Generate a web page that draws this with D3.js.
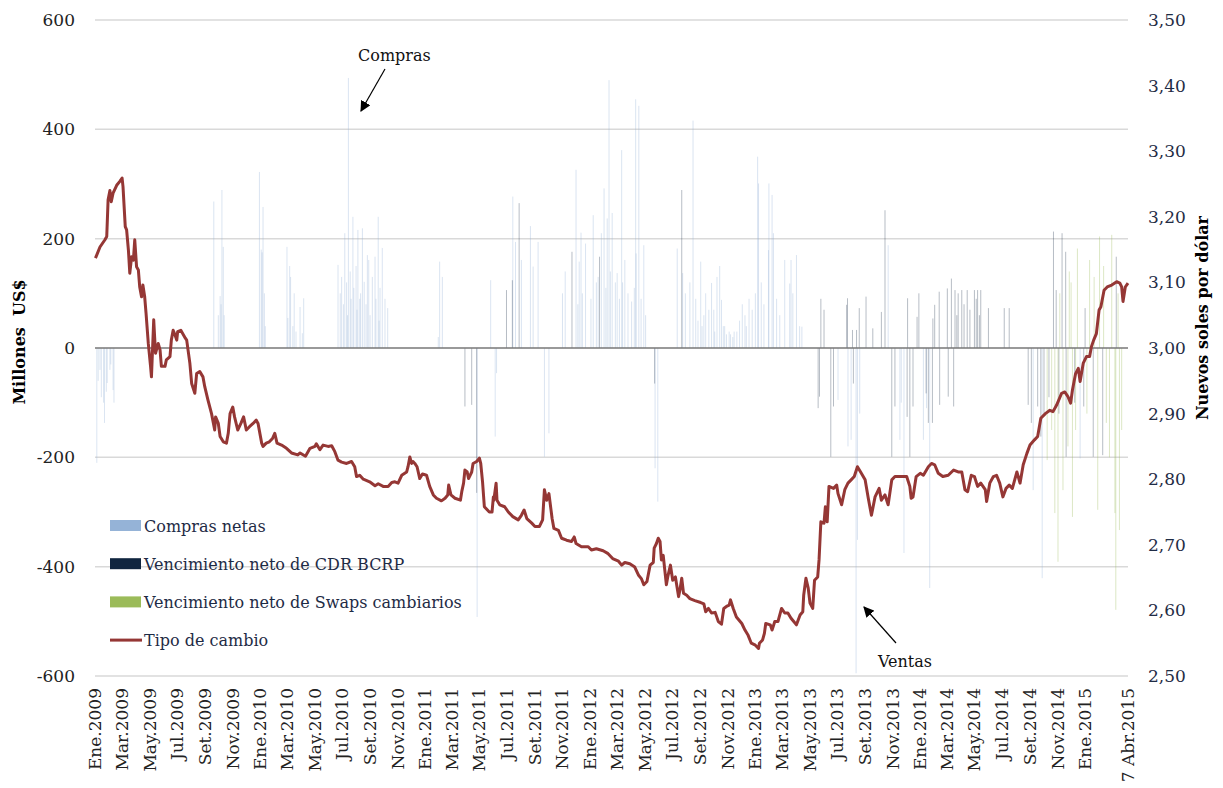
<!DOCTYPE html>
<html>
<head>
<meta charset="utf-8">
<script src="https://cdn.jsdelivr.net/npm/d3@7"></script>
<style>
  body { margin: 0; background: #fff; }
  text { font-family: "DejaVu Serif", serif; }
</style>
</head>
<body>
<svg width="1223" height="788"></svg>
<script>
// tipo de cambio (S/. por US$)
var tipoCambio = [
  ["2009-01-02",3.137],["2009-01-05",3.142],["2009-01-12",3.154],["2009-01-23",3.165],["2009-01-27",3.170],["2009-01-30",3.226],
  ["2009-02-03",3.240],["2009-02-06",3.223],["2009-02-10",3.236],["2009-02-18",3.248],["2009-02-25",3.254],["2009-03-02",3.259],
  ["2009-03-04",3.246],["2009-03-09",3.185],["2009-03-12",3.180],["2009-03-16",3.149],["2009-03-19",3.114],["2009-03-23",3.139],
  ["2009-03-27",3.134],["2009-03-30",3.165],["2009-04-03",3.124],["2009-04-07",3.119],["2009-04-10",3.093],["2009-04-14",3.078],
  ["2009-04-17",3.096],["2009-04-21",3.078],["2009-04-24",3.053],["2009-04-29",3.007],["2009-05-04",2.972],["2009-05-06",2.956],
  ["2009-05-11",3.043],["2009-05-13",3.017],["2009-05-15",2.992],["2009-05-21",3.007],["2009-05-25",2.997],["2009-05-28",2.972],
  ["2009-06-05",2.972],["2009-06-08",2.982],["2009-06-16",2.987],["2009-06-19",3.012],["2009-06-23",3.027],["2009-06-26",3.022],
  ["2009-07-01",3.012],["2009-07-03",3.025],["2009-07-10",3.027],["2009-07-20",3.015],["2009-07-23",3.012],["2009-07-30",2.977],
  ["2009-08-03",2.946],["2009-08-10",2.931],["2009-08-14",2.961],["2009-08-21",2.964],["2009-08-28",2.956],["2009-09-01",2.941],
  ["2009-09-08",2.921],["2009-09-16",2.900],["2009-09-23",2.875],["2009-09-25",2.895],["2009-10-01",2.885],["2009-10-05",2.865],
  ["2009-10-12",2.857],["2009-10-19",2.855],["2009-10-23",2.870],["2009-10-27",2.900],["2009-11-02",2.910],["2009-11-06",2.895],
  ["2009-11-13",2.875],["2009-11-20",2.885],["2009-11-26",2.895],["2009-12-02",2.875],["2009-12-09",2.880],["2009-12-17",2.885],
  ["2009-12-24",2.890],["2009-12-28",2.885],
  ["2010-01-05",2.855],["2010-01-08",2.850],["2010-01-15",2.855],["2010-01-22",2.857],["2010-01-29",2.862],["2010-02-03",2.870],
  ["2010-02-08",2.855],["2010-02-18",2.852],["2010-03-01",2.847],["2010-03-12",2.840],["2010-03-26",2.837],["2010-03-31",2.840],
  ["2010-04-12",2.835],["2010-04-22",2.847],["2010-05-03",2.850],["2010-05-06",2.854],["2010-05-14",2.845],["2010-05-21",2.852],
  ["2010-06-01",2.850],["2010-06-09",2.851],["2010-06-16",2.842],["2010-06-23",2.829],["2010-07-01",2.826],["2010-07-12",2.824],
  ["2010-07-23",2.827],["2010-07-30",2.819],["2010-08-03",2.804],["2010-08-10",2.806],["2010-08-18",2.800],["2010-09-01",2.796],
  ["2010-09-13",2.790],["2010-09-20",2.793],["2010-10-01",2.789],["2010-10-12",2.789],["2010-10-20",2.795],["2010-10-27",2.796],
  ["2010-11-03",2.794],["2010-11-11",2.806],["2010-11-22",2.811],["2010-11-25",2.819],["2010-11-29",2.834],["2010-12-03",2.824],
  ["2010-12-06",2.827],["2010-12-10",2.824],["2010-12-15",2.819],["2010-12-21",2.801],["2010-12-27",2.808],
  ["2011-01-05",2.806],["2011-01-12",2.789],["2011-01-20",2.776],["2011-01-27",2.771],["2011-02-07",2.767],["2011-02-15",2.771],
  ["2011-02-21",2.776],["2011-02-23",2.791],["2011-02-28",2.776],["2011-03-09",2.771],["2011-03-21",2.768],["2011-03-24",2.781],
  ["2011-03-28",2.794],["2011-03-31",2.814],["2011-04-05",2.811],["2011-04-08",2.801],["2011-04-15",2.811],["2011-04-18",2.824],
  ["2011-04-26",2.827],["2011-05-02",2.832],["2011-05-05",2.824],["2011-05-09",2.796],["2011-05-13",2.758],["2011-05-24",2.750],
  ["2011-05-30",2.750],["2011-06-02",2.773],["2011-06-03",2.768],["2011-06-08",2.794],["2011-06-10",2.768],["2011-06-16",2.761],
  ["2011-06-27",2.758],["2011-07-05",2.750],["2011-07-15",2.743],["2011-07-27",2.738],["2011-08-03",2.745],["2011-08-09",2.753],
  ["2011-08-15",2.740],["2011-08-26",2.733],["2011-09-02",2.728],["2011-09-12",2.728],["2011-09-19",2.738],["2011-09-23",2.784],
  ["2011-09-28",2.768],["2011-10-03",2.778],["2011-10-10",2.740],["2011-10-14",2.725],["2011-10-24",2.722],["2011-10-31",2.710],
  ["2011-11-11",2.707],["2011-11-22",2.705],["2011-11-28",2.712],["2011-12-02",2.702],["2011-12-14",2.697],["2011-12-29",2.697],
  ["2012-01-05",2.692],["2012-01-16",2.694],["2012-01-31",2.691],["2012-02-10",2.687],["2012-02-21",2.679],["2012-03-05",2.675],
  ["2012-03-12",2.669],["2012-03-19",2.673],["2012-03-30",2.671],["2012-04-10",2.666],["2012-04-18",2.654],["2012-04-25",2.648],
  ["2012-04-30",2.639],["2012-05-07",2.644],["2012-05-14",2.669],["2012-05-21",2.673],["2012-05-23",2.695],["2012-05-28",2.702],
  ["2012-06-01",2.710],["2012-06-05",2.705],["2012-06-08",2.677],["2012-06-12",2.684],["2012-06-19",2.639],["2012-06-22",2.651],
  ["2012-06-28",2.669],["2012-07-03",2.646],["2012-07-09",2.651],["2012-07-16",2.621],["2012-07-19",2.631],["2012-07-23",2.649],
  ["2012-07-27",2.626],["2012-08-03",2.623],["2012-08-10",2.618],["2012-08-21",2.615],["2012-09-03",2.612],["2012-09-10",2.610],
  ["2012-09-14",2.598],["2012-09-20",2.603],["2012-09-27",2.596],["2012-10-05",2.597],["2012-10-12",2.583],["2012-10-19",2.579],
  ["2012-10-24",2.603],["2012-10-30",2.606],["2012-11-05",2.608],["2012-11-08",2.616],["2012-11-14",2.603],["2012-11-21",2.590],
  ["2012-12-03",2.580],["2012-12-10",2.570],["2012-12-17",2.562],["2012-12-24",2.550],
  ["2013-01-02",2.547],["2013-01-09",2.542],["2013-01-11",2.550],["2013-01-18",2.555],["2013-01-22",2.565],["2013-01-25",2.580],
  ["2013-02-04",2.578],["2013-02-08",2.570],["2013-02-14",2.583],["2013-02-21",2.583],["2013-03-01",2.603],["2013-03-08",2.596],
  ["2013-03-15",2.596],["2013-03-22",2.588],["2013-03-28",2.583],["2013-04-03",2.578],["2013-04-11",2.593],["2013-04-17",2.598],
  ["2013-04-19",2.623],["2013-04-24",2.649],["2013-04-29",2.634],["2013-05-03",2.611],["2013-05-09",2.603],["2013-05-13",2.646],
  ["2013-05-20",2.651],["2013-05-23",2.677],["2013-05-27",2.735],["2013-06-03",2.733],["2013-06-06",2.758],["2013-06-10",2.735],
  ["2013-06-14",2.789],["2013-06-24",2.786],["2013-07-01",2.791],["2013-07-04",2.778],["2013-07-12",2.761],["2013-07-19",2.784],
  ["2013-07-26",2.794],["2013-08-02",2.799],["2013-08-09",2.804],["2013-08-16",2.819],["2013-08-23",2.811],["2013-09-02",2.799],
  ["2013-09-09",2.771],["2013-09-16",2.745],["2013-09-24",2.773],["2013-10-03",2.786],["2013-10-08",2.768],["2013-10-16",2.776],
  ["2013-10-23",2.761],["2013-10-31",2.799],["2013-11-07",2.804],["2013-11-22",2.804],["2013-12-03",2.804],["2013-12-10",2.789],
  ["2013-12-13",2.771],["2013-12-17",2.773],["2013-12-24",2.804],
  ["2014-01-02",2.809],["2014-01-09",2.806],["2014-01-20",2.819],["2014-01-27",2.824],["2014-02-03",2.822],["2014-02-11",2.809],
  ["2014-02-21",2.804],["2014-03-05",2.806],["2014-03-17",2.814],["2014-03-27",2.811],["2014-04-04",2.811],["2014-04-11",2.784],
  ["2014-04-17",2.781],["2014-04-25",2.806],["2014-05-02",2.804],["2014-05-09",2.789],["2014-05-16",2.794],["2014-05-26",2.784],
  ["2014-05-29",2.766],["2014-06-05",2.794],["2014-06-13",2.804],["2014-06-20",2.806],["2014-06-27",2.794],["2014-07-04",2.773],
  ["2014-07-11",2.786],["2014-07-18",2.791],["2014-07-25",2.786],["2014-08-04",2.811],["2014-08-11",2.794],["2014-08-18",2.822],
  ["2014-08-26",2.839],["2014-09-02",2.852],["2014-09-12",2.860],["2014-09-19",2.865],["2014-09-26",2.893],["2014-10-06",2.900],
  ["2014-10-16",2.905],["2014-10-23",2.903],["2014-10-31",2.913],["2014-11-11",2.931],["2014-11-18",2.933],["2014-11-25",2.926],
  ["2014-12-01",2.916],["2014-12-05",2.936],["2014-12-12",2.961],["2014-12-18",2.969],["2014-12-22",2.949],["2014-12-29",2.977],
  ["2015-01-05",2.987],["2015-01-12",2.987],["2015-01-16",3.002],["2015-01-21",3.012],["2015-01-27",3.022],["2015-02-02",3.058],
  ["2015-02-06",3.063],["2015-02-13",3.088],["2015-02-20",3.093],["2015-03-02",3.096],["2015-03-13",3.101],["2015-03-20",3.099],
  ["2015-03-24",3.093],["2015-03-27",3.071],["2015-04-01",3.093],["2015-04-07",3.099]
];

// compras netas (millones US$), negativas = ventas
var comprasNetas = [
  ["2009-01-05",-210],["2009-01-08",-60],["2009-01-12",-40],["2009-01-15",-90],["2009-01-20",-100],["2009-01-22",-137],
  ["2009-01-26",-80],["2009-01-28",-64],["2009-02-03",-40],["2009-02-05",-30],["2009-02-10",-77],["2009-02-12",-100],
  ["2009-09-21",268],["2009-10-01",60],["2009-10-05",95],["2009-10-07",80],["2009-10-09",289],["2009-10-12",185],["2009-10-14",60],
  ["2009-12-31",322],["2010-01-04",180],["2010-01-06",175],["2010-01-08",258],["2010-01-11",100],["2010-01-13",40],
  ["2010-03-02",185],["2010-03-04",55],["2010-03-08",150],["2010-03-10",130],["2010-03-15",40],["2010-03-18",100],
  ["2010-03-22",30],["2010-03-31",75],["2010-04-05",27],["2010-04-08",91],
  ["2010-06-23",152],["2010-06-28",100],["2010-07-01",130],["2010-07-05",80],["2010-07-08",210],["2010-07-12",120],
  ["2010-07-14",60],["2010-07-16",494],["2010-07-20",140],["2010-07-22",90],["2010-07-26",240],["2010-07-28",110],
  ["2010-08-02",150],["2010-08-04",70],["2010-08-06",216],["2010-08-10",90],["2010-08-12",100],["2010-08-16",219],
  ["2010-08-20",121],["2010-08-24",80],["2010-08-27",170],["2010-08-30",161],["2010-09-02",60],["2010-09-07",130],
  ["2010-09-13",167],["2010-09-15",90],["2010-09-20",240],["2010-09-22",50],["2010-09-24",110],["2010-09-29",183],
  ["2010-10-05",90],["2010-10-11",73],
  ["2011-01-31",20],["2011-02-03",158],["2011-02-09",130],
  ["2011-04-27",-492],["2011-05-27",124],["2011-06-06",-162],["2011-06-09",-46],
  ["2011-07-15",277],["2011-07-21",194],["2011-08-03",161],["2011-08-23",223],["2011-08-29",149],["2011-09-09",194],
  ["2011-09-23",-199],["2011-10-03",-156],
  ["2011-11-02",100],["2011-11-08",140],["2011-12-02",326],["2011-12-06",80],["2011-12-09",158],["2011-12-13",211],
  ["2011-12-16",100],["2011-12-23",191],["2012-01-04",90],["2012-01-09",243],["2012-01-16",120],["2012-01-20",130],
  ["2012-01-27",210],["2012-02-02",292],["2012-02-06",110],["2012-02-09",237],["2012-02-13",490],["2012-02-16",140],
  ["2012-02-20",247],["2012-02-27",120],["2012-03-02",137],["2012-03-07",90],["2012-03-12",362],["2012-03-14",120],
  ["2012-03-19",161],["2012-03-26",100],["2012-04-03",85],["2012-04-09",110],["2012-04-12",455],["2012-04-13",173],
  ["2012-04-19",443],["2012-04-24",90],["2012-04-30",188],["2012-05-04",60],
  ["2012-05-25",-220],["2012-05-31",-281],
  ["2012-07-13",182],["2012-07-25",137],["2012-07-31",100],["2012-08-10",120],["2012-08-17",416],["2012-08-23",90],
  ["2012-08-28",50],["2012-09-03",158],["2012-09-06",40],["2012-09-10",60],["2012-09-14",100],["2012-09-21",70],
  ["2012-09-27",119],["2012-10-02",70],["2012-10-04",30],["2012-10-09",130],["2012-10-15",150],["2012-10-19",88],
  ["2012-10-23",40],["2012-10-26",40],["2012-10-30",25],["2012-11-05",30],["2012-11-08",25],["2012-11-13",20],
  ["2012-11-16",30],["2012-11-22",30],["2012-11-28",50],["2012-12-04",80],["2012-12-10",60],["2012-12-13",40],
  ["2012-12-19",90],["2012-12-26",70],["2013-01-02",100],["2013-01-07",350],["2013-01-09",301],["2013-01-15",120],
  ["2013-01-21",80],["2013-01-31",179],["2013-02-01",301],["2013-02-08",280],["2013-02-11",210],["2013-02-18",90],
  ["2013-02-25",60],["2013-03-08",161],["2013-03-19",118],["2013-03-22",161],["2013-03-26",100],["2013-04-03",170],
  ["2013-04-10",40],["2013-04-15",39],
  ["2013-07-04",-95],["2013-07-26",-180],["2013-08-02",-168],["2013-08-13",-595],["2013-08-16",-351],["2013-08-21",-120],
  ["2013-10-23",188],["2013-11-18",-168],["2013-11-21",-100],["2013-11-27",-375],["2014-01-09",-168],["2014-01-16",-110],
  ["2014-01-23",-439],["2014-09-09",-260],["2014-09-29",-421],["2014-12-22",-202]
];

// vencimiento neto de CDR BCRP (millones US$)
var vencCDR = [
  ["2011-03-31",-107],["2011-04-15",-104],["2011-04-26",-265],["2011-07-01",106],["2011-07-14",124],["2011-07-29",265],
  ["2011-11-23",176],["2012-01-23",167],["2012-05-24",-65],["2012-07-23",289],
  ["2013-05-21",-110],["2013-05-24",-89],["2013-05-27",90],["2013-06-03",70],["2013-06-18",-199],["2013-06-24",-107],
  ["2013-07-23",79],["2013-07-25",91],["2013-08-05",33],["2013-08-07",-65],["2013-08-14",33],["2013-08-20",73],
  ["2013-09-04",94],["2013-09-19",36],["2013-10-08",66],["2013-10-16",252],["2013-10-31",-199],["2013-11-07",-107],
  ["2013-12-04",-126],["2013-12-05",91],["2013-12-10",-199],["2013-12-17",-107],["2013-12-26",57],["2013-12-30",100],
  ["2014-01-15",-83],["2014-01-20",-137],["2014-01-29",-137],["2014-01-30",54],["2014-02-03",79],["2014-02-13",103],
  ["2014-02-14",-104],["2014-03-03",109],["2014-03-05",-89],["2014-03-12",127],["2014-03-17",-107],["2014-03-20",106],
  ["2014-03-24",60],["2014-03-27",100],["2014-04-04",106],["2014-04-09",80],["2014-04-16",106],["2014-04-22",70],
  ["2014-05-02",106],["2014-05-06",90],["2014-05-09",106],["2014-05-13",60],["2014-05-16",106],["2014-06-02",73],
  ["2014-07-07",73],["2014-07-18",73],["2014-08-29",-104],["2014-09-05",-137],["2014-09-19",-107],["2014-09-26",-162],
  ["2014-10-03",-119],["2014-10-14",-90],["2014-10-24",213],["2014-10-30",106],["2014-11-05",-120],["2014-11-12",210],
  ["2014-11-20",176],["2014-11-21",-199],["2014-12-10",-100],["2014-12-30",-107],["2015-01-02",73],["2015-01-20",-199],
  ["2015-02-10",-196],["2015-03-12",167]
];

// vencimiento neto de swaps cambiarios (millones US$)
var vencSwaps = [
  ["2014-10-10",-205],["2014-10-20",-150],["2014-10-27",-302],["2014-11-03",-391],["2014-11-07",100],["2014-11-14",-260],
  ["2014-11-25",-180],["2014-11-28",140],["2014-12-02",120],["2014-12-05",-309],["2014-12-12",-150],["2014-12-16",182],
  ["2015-01-06",-120],["2015-01-12",161],["2015-01-22",130],["2015-01-30",-296],["2015-02-03",204],["2015-02-12",150],
  ["2015-02-18",-137],["2015-02-25",-200],["2015-03-02",207],["2015-03-09",-302],["2015-03-11",-479],["2015-03-16",100],
  ["2015-03-19",-333],["2015-03-24",-150]
];

var leftTicks = [-600, -400, -200, 0, 200, 400, 600];
var rightTicks = [2.5, 2.6, 2.7, 2.8, 2.9, 3.0, 3.1, 3.2, 3.3, 3.4, 3.5];
var mesAbrev = ["Ene", "Feb", "Mar", "Abr", "May", "Jun", "Jul", "Ago", "Set", "Oct", "Nov", "Dic"];
var ultimaEtiqueta = ["2015-04-07", "7 Abr.2015"];
var leyenda = ["Compras netas", "Vencimiento neto de CDR BCRP", "Vencimiento neto de Swaps cambiarios", "Tipo de cambio"];

var svg = d3.select("svg");
var parse = d3.timeParse("%Y-%m-%d");
var plotL = 95, plotR = 1128, plotT = 20, plotB = 676;

var x = d3.scaleTime()
    .domain([parse("2009-01-01"), parse("2015-04-07")])
    .range([plotL, plotR]);
var y = d3.scaleLinear().domain([-600, 600]).range([plotB, plotT]);
var y2 = d3.scaleLinear().domain([2.5, 3.5]).range([plotB, plotT]);

var es = d3.formatLocale({decimal: ",", thousands: ".", grouping: [3], currency: ["", ""], minus: "-"});

// gridlines
svg.append("g")
  .selectAll("line")
  .data(leftTicks.filter(function(d) { return d != 0; }))
  .enter().append("line")
    .attr("x1", plotL).attr("x2", plotR)
    .attr("y1", function(d) { return y(d); })
    .attr("y2", function(d) { return y(d); })
    .style("stroke", "#d9d9d9")
    .style("stroke-width", 1.5);

// bars
function bars(data, color, opacity) {
  svg.append("g")
    .selectAll("rect")
    .data(data)
    .enter().append("rect")
      .attr("x", function(d) { return x(parse(d[0])) - 0.5; })
      .attr("width", 1)
      .attr("y", function(d) { return y(Math.max(0, d[1])); })
      .attr("height", function(d) { return Math.abs(y(d[1]) - y(0)); })
      .style("fill", color)
      .style("fill-opacity", opacity);
}
bars(comprasNetas, "#95B3D7", 0.35);
bars(vencCDR, "#10253F", 0.3);
bars(vencSwaps, "#9BBB59", 0.35);

// zero line
svg.append("line")
    .attr("x1", plotL).attr("x2", plotR)
    .attr("y1", y(0)).attr("y2", y(0))
    .style("stroke", "#777")
    .style("stroke-width", 1.5);

// tipo de cambio
var line = d3.line()
    .x(function(d) { return x(parse(d[0])); })
    .y(function(d) { return y2(d[1]); });
svg.append("path")
    .datum(tipoCambio)
    .attr("d", line)
    .style("fill", "none")
    .style("stroke", "#953735")
    .style("stroke-width", 3)
    .style("stroke-linejoin", "round");

// axes
var yAxis = svg.append("g")
    .attr("transform", "translate(" + plotL + ",0)")
    .call(d3.axisLeft(y).tickValues(leftTicks).tickSize(0).tickPadding(20).tickFormat(es.format("d")));
var y2Axis = svg.append("g")
    .attr("transform", "translate(" + plotR + ",0)")
    .call(d3.axisRight(y2).tickValues(rightTicks).tickSize(0).tickPadding(20).tickFormat(es.format(".2f")));

var monthTicks = d3.timeMonth.every(2).range(parse("2009-01-01"), parse("2015-02-01"));
var lastTick = parse(ultimaEtiqueta[0]);
var xAxis = svg.append("g")
    .attr("transform", "translate(0," + plotB + ")")
    .call(d3.axisBottom(x)
      .tickValues(monthTicks.concat([lastTick]))
      .tickSize(0)
      .tickFormat(function(d) {
        if (+d == +lastTick) return ultimaEtiqueta[1];
        return mesAbrev[d.getMonth()] + "." + d.getFullYear();
      }));
xAxis.selectAll("text")
    .attr("transform", "rotate(-90)")
    .attr("x", -12)
    .attr("y", 0)
    .attr("dy", "0.35em")
    .style("text-anchor", "end");

[yAxis, y2Axis, xAxis].forEach(function(a) {
  a.select(".domain").remove();
  a.selectAll("text")
    .style("font-family", "DejaVu Serif, serif")
    .style("font-size", "17px");
});
yAxis.selectAll("text").style("fill", "#222");
xAxis.selectAll("text").style("fill", "#222");
y2Axis.selectAll("text").style("fill", "#1f2c45");

// axis titles
svg.append("text")
    .attr("transform", "translate(25,342) rotate(-90)")
    .attr("text-anchor", "middle")
    .style("font-size", "16px").style("font-weight", "bold")
    .style("white-space", "pre")
    .text("Millones  US$");
svg.append("text")
    .attr("transform", "translate(1208,318) rotate(-90)")
    .attr("text-anchor", "middle")
    .style("font-size", "16px").style("font-weight", "bold")
    .text("Nuevos soles por dólar");

// annotations
svg.append("defs").append("marker")
    .attr("id", "arrow")
    .attr("viewBox", "0 0 10 10")
    .attr("refX", 9).attr("refY", 5)
    .attr("markerWidth", 9).attr("markerHeight", 9)
    .attr("orient", "auto")
  .append("path")
    .attr("d", "M0,0L10,5L0,10z")
    .style("fill", "#000");

svg.append("text").attr("x", 358).attr("y", 61)
    .style("font-size", "16px").style("fill", "#111").text("Compras");
svg.append("line")
    .attr("x1", 385).attr("y1", 69).attr("x2", 361).attr("y2", 111)
    .style("stroke", "#000").style("stroke-width", 1.2)
    .attr("marker-end", "url(#arrow)");
svg.append("text").attr("x", 878).attr("y", 667)
    .style("font-size", "16px").style("fill", "#111").text("Ventas");
svg.append("line")
    .attr("x1", 896).attr("y1", 643).attr("x2", 864).attr("y2", 607)
    .style("stroke", "#000").style("stroke-width", 1.2)
    .attr("marker-end", "url(#arrow)");

// legend
var legColors = ["#95B3D7", "#10253F", "#9BBB59", "#953735"];
var leg = svg.append("g")
  .selectAll("g")
  .data(leyenda)
  .enter().append("g")
    .attr("transform", function(d, i) { return "translate(110," + (525.5 + i * 38.2) + ")"; });
leg.each(function(d, i) {
  var g = d3.select(this);
  if (i < 3) {
    g.append("rect").attr("x", 0).attr("y", -5.5).attr("width", 31).attr("height", 11)
      .style("fill", legColors[i]);
  } else {
    g.append("line").attr("x1", 0).attr("x2", 32).attr("y1", 0).attr("y2", 0)
      .style("stroke", legColors[i]).style("stroke-width", 3);
  }
});
leg.append("text")
    .attr("x", 34)
    .attr("y", 6)
    .style("font-size", "16px")
    .style("fill", "#1e2b45")
    .text(function(d) { return d; });
</script>
</body>
</html>
